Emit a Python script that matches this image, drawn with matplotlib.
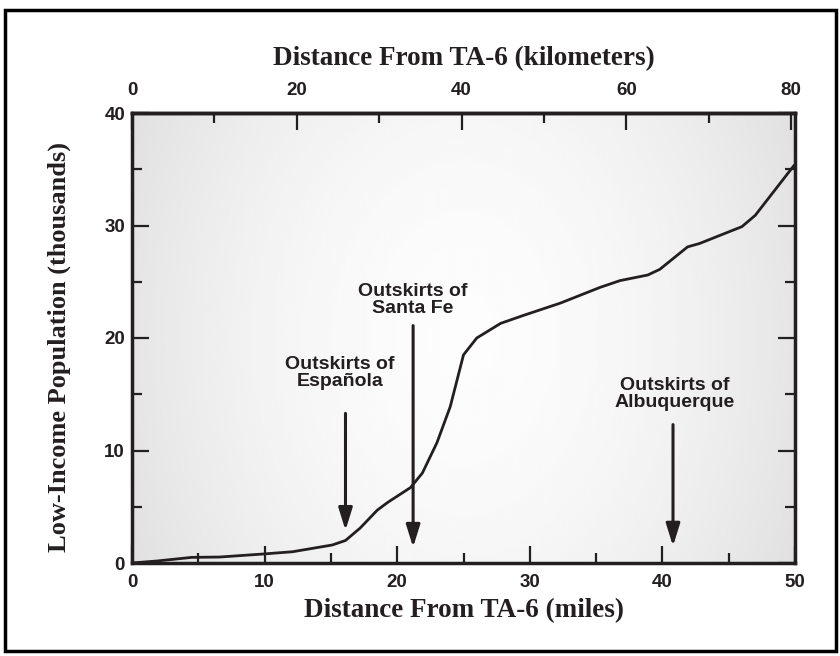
import numpy as np
import matplotlib
matplotlib.use("Agg")
import matplotlib.pyplot as plt
from matplotlib.patches import Rectangle

# curve (miles, thousands of people)
miles = [0, 1.9, 4.5, 6.6, 9.9, 12.1, 15.1, 16.1, 17.2, 18.5, 19.3, 21.0, 21.9,
         23.0, 24.0, 25.0, 26.0, 27.8, 29.5, 32.3, 33.8, 35.3, 36.8, 38.9, 39.8,
         41.9, 42.8, 46.0, 47.0, 49.9]
population = [0, 0.18, 0.5, 0.53, 0.8, 1.0, 1.6, 2.0, 3.1, 4.7, 5.4, 6.7, 8.0,
              10.7, 13.9, 18.5, 20.0, 21.3, 22.0, 23.1, 23.8, 24.5, 25.1, 25.6, 26.1,
              28.1, 28.4, 29.9, 30.9, 35.3]

# annotations: label, arrow x, arrow top, arrow tip, label bottom
places = ["Outskirts of\nEspañola", "Outskirts of\nSanta Fe", "Outskirts of\nAlbuquerque"]
arrow_x = [16.1, 21.2, 40.8]
arrow_top = [13.3, 21.1, 12.3]
arrow_tip = [2.9, 1.4, 1.5]
label_x = [15.7, 21.2, 40.9]
label_y = [15.4, 21.9, 13.5]

MI_TO_KM = 1.609344

sans = ["Liberation Sans", "DejaVu Sans"]
serif = ["Liberation Serif", "DejaVu Serif"]
ink = "#231f20"

fig = plt.figure(figsize=(8.4, 6.56), dpi=100)
ax = fig.add_axes([132 / 840, 1 - 563 / 656, (795 - 132) / 840, (563 - 113) / 656])

# light radial shading in the plot area
gx, gy = np.meshgrid(np.linspace(-1, 1, 400), np.linspace(-1, 1, 300))
r = np.sqrt(gx ** 2 + (gy * 0.5) ** 2)
shade = 0.99 - 0.09 * np.clip(r, 0, 1.2) ** 1.8
ax.imshow(shade, cmap="gray", vmin=0, vmax=1, extent=[0, 50, 0, 40],
          aspect="auto", zorder=0, interpolation="bicubic")

ax.plot(miles, population, color=ink, lw=2.0, zorder=3)

for i in range(len(places)):
    ax.annotate("", xy=(arrow_x[i], arrow_tip[i]), xytext=(arrow_x[i], arrow_top[i]),
                arrowprops=dict(arrowstyle="-|>,head_width=0.42,head_length=1.35",
                                color=ink, lw=2.2, shrinkA=0, shrinkB=0),
                zorder=4)
    ax.text(label_x[i], label_y[i], places[i], ha="center", va="bottom",
            family=sans, fontweight="bold", fontsize=14, color=ink,
            linespacing=1.0)

ax.set_xlim(0, 50)
ax.set_ylim(0, 40)
ax.set_xticks([0, 10, 20, 30, 40, 50])
ax.set_xticks([5, 15, 25, 35, 45], minor=True)
ax.set_yticks([0, 10, 20, 30, 40])
ax.set_yticks([5, 15, 25, 35], minor=True)
ax.tick_params(which="both", direction="in", right=True, width=1.6,
               color=ink, labelcolor=ink)
ax.tick_params(which="major", length=12, labelsize=13.5)
ax.tick_params(which="minor", length=7)
ax.tick_params(axis="x", pad=8)
ax.tick_params(axis="y", pad=5)
for lab in ax.get_xticklabels() + ax.get_yticklabels():
    lab.set_family(sans)
    lab.set_fontweight("bold")
for s in ax.spines.values():
    s.set_linewidth(2.5)
    s.set_color(ink)

top = ax.secondary_xaxis("top", functions=(lambda m: m * MI_TO_KM, lambda k: k / MI_TO_KM))
top.set_xticks([0, 20, 40, 60, 80])
top.set_xticks([10, 30, 50, 70], minor=True)
top.tick_params(which="both", direction="in", width=1.6, color=ink, labelcolor=ink)
top.tick_params(which="major", length=12, labelsize=13.5, pad=10)
top.tick_params(which="minor", length=7)
for lab in top.get_xticklabels():
    lab.set_family(sans)
    lab.set_fontweight("bold")
top.spines["top"].set_linewidth(2.5)

ax.set_xlabel("Distance From TA-6 (miles)", family=serif, fontweight="bold",
              fontsize=19.5, color=ink)
ax.xaxis.set_label_coords(0.5, -0.079)
ax.set_ylabel("Low-Income Population (thousands)", family=serif, fontweight="bold",
              fontsize=19, color=ink)
ax.yaxis.set_label_coords(-0.092, 0.48)
top.set_xlabel("Distance From TA-6 (kilometers)", family=serif, fontweight="bold",
               fontsize=19.5, color=ink, labelpad=12)

# frame round the whole figure
fig.patches.append(Rectangle((5 / 840, 1 - 651 / 656), 831 / 840, 641 / 656,
                             transform=fig.transFigure, fill=False,
                             edgecolor="black", lw=2.5))

fig.savefig("out.png", dpi=100)
